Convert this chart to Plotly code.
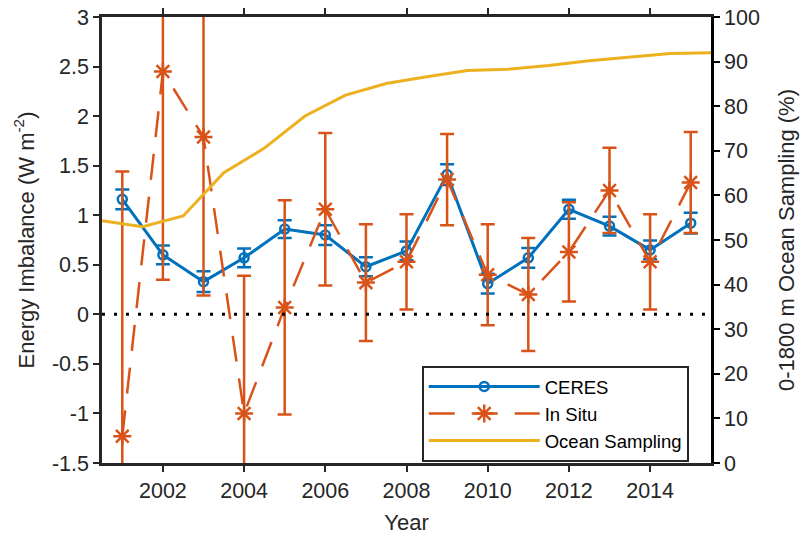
import plotly.graph_objects as go

# ---- data ----
years = [2001, 2002, 2003, 2004, 2005, 2006, 2007, 2008, 2009, 2010, 2011, 2012, 2013, 2014, 2015]
ceres = [1.16, 0.60, 0.33, 0.57, 0.86, 0.80, 0.48, 0.64, 1.41, 0.31, 0.57, 1.06, 0.89, 0.65, 0.92]
ceres_err = [0.10, 0.095, 0.105, 0.095, 0.09, 0.10, 0.095, 0.095, 0.105, 0.10, 0.10, 0.095, 0.095, 0.095, 0.105]
insitu = [-1.23, 2.45, 1.79, -1.00, 0.07, 1.06, 0.32, 0.53, 1.36, 0.40, 0.20, 0.63, 1.25, 0.53, 1.33]
insitu_err = [2.67, 2.10, 1.60, 1.39, 1.08, 0.77, 0.59, 0.48, 0.46, 0.51, 0.57, 0.50, 0.43, 0.48, 0.51]
sampling_years = [2000.5, 2001.5, 2002.5, 2003.5, 2004.5, 2005.5, 2006.5, 2007.5,
                  2008.5, 2009.5, 2010.5, 2011.5, 2012.5, 2013.5, 2014.5, 2015.5]
sampling = [54.3, 53.0, 55.4, 65.1, 70.6, 77.8, 82.5, 85.1, 86.6, 88.0, 88.3, 89.1, 90.2, 91.0, 91.8, 92.0]
x_ticks = [2002, 2004, 2006, 2008, 2010, 2012, 2014]
y_ticks = [-1.5, -1, -0.5, 0, 0.5, 1, 1.5, 2, 2.5, 3]
y_tick_labels = ["-1.5", "-1", "-0.5", "0", "0.5", "1", "1.5", "2", "2.5", "3"]
y2_ticks = [0, 10, 20, 30, 40, 50, 60, 70, 80, 90, 100]

BLUE = "#0072BD"
ORANGE = "#D95319"
YELLOW = "#EDB120"
AX = "#262626"
FONT = "Liberation Sans, Arial, Helvetica, sans-serif"

fig = go.Figure()

fig.add_trace(go.Scatter(
    x=years, y=ceres, name="CERES", mode="lines+markers",
    line=dict(color=BLUE, width=3),
    marker=dict(symbol="circle-open", size=9, color=BLUE, line=dict(width=2.5, color=BLUE)),
    error_y=dict(type="data", array=ceres_err, color=BLUE, thickness=2.5, width=7),
))

fig.add_trace(go.Scatter(
    x=years, y=insitu, name="In Situ", mode="lines+markers",
    line=dict(color=ORANGE, width=2.5, dash="26px,17px"),
    marker=dict(symbol="asterisk-open", size=15, color=ORANGE, line=dict(width=2.5, color=ORANGE)),
    error_y=dict(type="data", array=insitu_err, color=ORANGE, thickness=2.5, width=7),
))

fig.add_trace(go.Scatter(
    x=sampling_years, y=sampling, name="Ocean Sampling", mode="lines",
    line=dict(color=YELLOW, width=3), yaxis="y2",
))

fig.add_shape(type="line", xref="paper", x0=0, x1=1, yref="y", y0=0, y1=0,
              line=dict(color="black", width=3, dash="3px,9px"))

fig.update_layout(
    width=804, height=540,
    margin=dict(l=102, r=93, t=17, b=77),
    paper_bgcolor="white", plot_bgcolor="white",
    font=dict(family=FONT, size=21.5, color=AX),
    showlegend=True,
    legend=dict(x=0.525, y=0.2175, xanchor="left", yanchor="top",
                bgcolor="white", bordercolor=AX, borderwidth=2,
                font=dict(size=18.5, color="black"), itemwidth=111),
    xaxis=dict(range=[2000.5, 2015.5], tickvals=x_ticks, ticks="outside", ticklen=6, tickwidth=2,
               tickcolor=AX, showline=True, linecolor=AX, linewidth=2.5, mirror="ticks",
               showgrid=False, zeroline=False, automargin=False, ticklabeloverflow="allow",
               title=dict(text="Year", font=dict(size=22, color=AX), standoff=14)),
    yaxis=dict(range=[-1.5, 3], tickvals=y_ticks, ticktext=y_tick_labels, ticks="outside",
               ticklen=6, tickwidth=2, tickcolor=AX, showline=True, linecolor=AX, linewidth=2.5,
               showgrid=False, zeroline=False, automargin=False, ticklabeloverflow="allow",
               title=dict(text="Energy Imbalance (W m<sup>-2</sup>)", font=dict(size=22, color=AX), standoff=12)),
    yaxis2=dict(range=[0, 100], tickvals=y2_ticks, overlaying="y", side="right", ticks="outside",
                ticklen=6, tickwidth=2, tickcolor="black", showline=True, linecolor="black",
                linewidth=2.5, showgrid=False, zeroline=False, automargin=False,
                ticklabeloverflow="allow",
                title=dict(text="0-1800 m Ocean Sampling (%)", font=dict(size=22, color=AX), standoff=20)),
)

fig.write_html("out.html", config={"displayModeBar": False},
               post_script="document.body.style.margin='0';")
